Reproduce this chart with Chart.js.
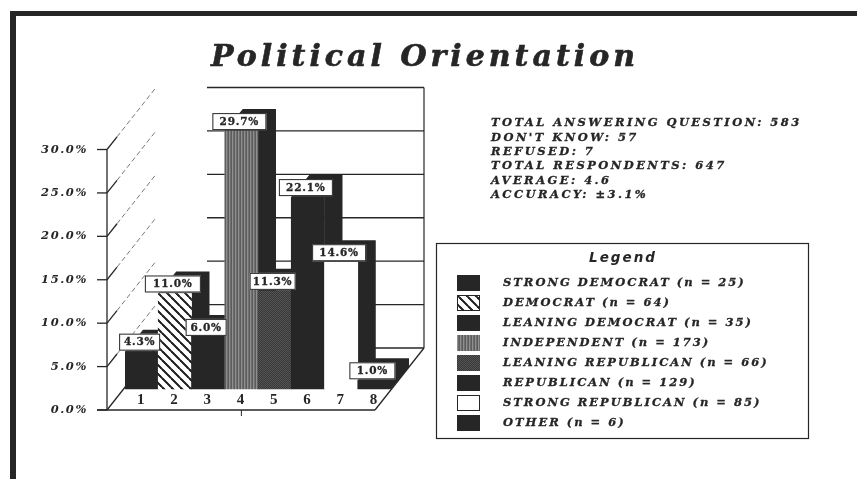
<!DOCTYPE html>
<html>
<head>
<meta charset="utf-8">
<style>html,body{margin:0;padding:0;background:#fff}canvas{display:block}</style>
<script src="https://cdn.jsdelivr.net/npm/chart.js@4"></script>
</head>
<body>
<canvas id="c" width="857" height="479"></canvas>
<script>
const titleText = 'Political Orientation';
const barLabels = ['1','2','3','4','5','6','7','8'];
const barValues = [4.3,11.0,6.0,29.7,11.3,22.1,14.6,1.0];
const tickValues = [0,5,10,15,20,25,30];
const statLines = ['TOTAL ANSWERING QUESTION: 583','DON\'T KNOW: 57','REFUSED: 7','TOTAL RESPONDENTS: 647','AVERAGE: 4.6','ACCURACY: \u00B13.1%'];
const legendTitle = 'Legend';
const legendNames = ['STRONG DEMOCRAT (n = 25)','DEMOCRAT (n = 64)','LEANING DEMOCRAT (n = 35)','INDEPENDENT (n = 173)','LEANING REPUBLICAN (n = 66)','REPUBLICAN (n = 129)','STRONG REPUBLICAN (n = 85)','OTHER (n = 6)'];
const INK = '#262626';

function tile(w,h,draw){const t=document.createElement('canvas');t.width=w;t.height=h;draw(t.getContext('2d'));return t.getContext('2d').createPattern(t,'repeat');}
const hatch = tile(9,9,g=>{g.fillStyle='#fff';g.fillRect(0,0,9,9);g.strokeStyle='#222';g.lineWidth=1.8;
  [[-9,-9,9,9],[0,0,9,9],[-9,0,9,18],[0,-9,18,9]].forEach(p=>{g.beginPath();g.moveTo(p[0],p[1]);g.lineTo(p[2],p[3]);g.stroke();});});
const stripes = tile(3,1,g=>{['#5c5c5c','#8f8f8f','#6e6e6e'].forEach((c,i)=>{g.fillStyle=c;g.fillRect(i,0,1,1);});});
const dots = tile(2,2,g=>{g.fillStyle='#383838';g.fillRect(0,0,2,2);g.fillStyle='#545454';g.fillRect(0,0,1,1);g.fillRect(1,1,1,1);});
const faceFills = [INK,hatch,INK,stripes,dots,INK,'#ffffff',INK];

function put(ctx,text,x,y,font,spacing,align,heavy){
  ctx.save();ctx.font=font;ctx.letterSpacing=spacing;ctx.textAlign=align||'left';ctx.textBaseline='middle';ctx.fillStyle=INK;ctx.fillText(text,x,y);
  if(heavy){ctx.strokeStyle=INK;ctx.lineWidth=heavy;ctx.strokeText(text,x,y);}
  ctx.restore();
}
function seg(ctx,x1,y1,x2,y2,w,c,dash){ctx.save();ctx.lineWidth=w;ctx.strokeStyle=c||INK;ctx.setLineDash(dash||[]);ctx.beginPath();ctx.moveTo(x1,y1);ctx.lineTo(x2,y2);ctx.stroke();ctx.restore();}

const WALL_DX=49, WALL_DY=-62, BAR_DX=18, BAR_DY=-22, AXIS_X=107;

const scene = {
  id:'scene',
  beforeDraw(chart){ chart.ctx.letterSpacing='1.6px';
    const c=chart.ctx; c.save();c.fillStyle='#fff';c.fillRect(0,0,857,479);
    c.fillStyle=INK;c.fillRect(10,11,847,5);c.fillRect(10,11,6,468);c.restore();
  },
  beforeDatasetsDraw(chart){
    const c=chart.ctx, ty=chart.scales.y2, xs=chart.scales.x;
    c.save(); c.letterSpacing='0px';
    const y0=ty.getPixelForValue(0), yT=ty.getPixelForValue(tickValues[tickValues.length-1]);
    const frontR=xs.getPixelForValue(7)+xs.width/16-16;
    const backR=frontR+WALL_DX;
    tickValues.forEach(v=>{
      const y=ty.getPixelForValue(v);
      seg(c,AXIS_X-10,y,AXIS_X,y,1.3);
      if(v>0){
        seg(c,AXIS_X,y,AXIS_X+10,y-12.6,1.3);
        seg(c,AXIS_X+10,y-12.6,AXIS_X+WALL_DX,y+WALL_DY,0.8,'#555',[5,3]);
        seg(c,207,y+WALL_DY,backR,y+WALL_DY,1.3);
      }
    });
    seg(c,AXIS_X,yT,AXIS_X,y0,1.3);
    seg(c,backR,yT+WALL_DY,backR,y0+WALL_DY,1.2);
    seg(c,AXIS_X-10,y0,frontR,y0,1.3);
    seg(c,AXIS_X,y0,AXIS_X+WALL_DX,y0+WALL_DY,1.3);
    seg(c,frontR,y0,backR,y0+WALL_DY,1.3);
    seg(c,AXIS_X+WALL_DX,y0+WALL_DY,backR,y0+WALL_DY,1.3);
    const mx=xs.getPixelForValue(3); seg(c,mx,y0,mx,y0+6,1);
    // 3D depth of every bar, taken from the library's bar elements
    chart.getDatasetMeta(0).data.forEach(b=>{
      const l=b.x-b.width/2,r=b.x+b.width/2;
      c.fillStyle=INK;
      c.beginPath();c.moveTo(l,b.y);c.lineTo(l+BAR_DX,b.y+BAR_DY);c.lineTo(r+BAR_DX,b.y+BAR_DY);c.lineTo(r+BAR_DX,b.base+BAR_DY);c.lineTo(r,b.base);c.lineTo(r,b.y);c.closePath();c.fill();
    });
    c.restore();
  },
  afterDatasetsDraw(chart){
    const c=chart.ctx;
    const meta=chart.getDatasetMeta(0).data;
    const boxW=[41,56,41,54,46,54,54,46];
    meta.forEach((b,i)=>{
      const w=boxW[i],h=17,x=b.x-w/2-2,y=b.y-h-1;
      c.save();c.fillStyle='#fff';c.strokeStyle=INK;c.lineWidth=1;c.fillRect(x,y,w,h);c.strokeRect(x+.5,y+.5,w-1,h-1);c.restore();
      put(c,barValues[i].toFixed(1)+'%',x+w/2,y+h/2+.5,'bold 10.5px "DejaVu Serif"','0.8px','center',0.3);
    });
    // title
    put(c,titleText,425,58,'italic bold 30px "DejaVu Serif"','4px','center',0.6);
    // stats block
    statLines.forEach((t,i)=>put(c,t,491,123.5+i*14.3,'italic bold 11.5px "DejaVu Serif"','2.45px','left',0.3));
    // legend
    c.save();c.strokeStyle=INK;c.lineWidth=1.2;c.strokeRect(436.5,243.5,372,195);c.restore();
    put(c,legendTitle,623,258,'italic bold 13.5px "DejaVu Sans"','2px','center');
    legendNames.forEach((t,i)=>{
      const cy=283+i*20;
      c.save();c.fillStyle=faceFills[i];c.fillRect(457,cy-8,23,16);
      if(i===1||i===6){c.strokeStyle=INK;c.lineWidth=1;c.strokeRect(457.5,cy-7.5,22,15);}
      c.restore();
      put(c,t,503,cy,'italic bold 11.5px "DejaVu Serif"','2px','left',0.3);
    });
  }
};

new Chart(document.getElementById('c'),{
  type:'bar',
  data:{labels:barLabels,datasets:[{data:barValues,backgroundColor:faceFills,borderWidth:0,barPercentage:1,categoryPercentage:1,yAxisID:'y'}]},
  options:{
    responsive:false,animation:false,
    layout:{padding:{top:87,right:466,left:0,bottom:0}},
    plugins:{legend:{display:false},title:{display:false},tooltip:{enabled:false}},
    scales:{
      x:{grid:{display:false,drawTicks:false},border:{display:false},
         ticks:{mirror:true,padding:1,maxRotation:0,autoSkip:false,color:INK,font:{family:'"Liberation Serif"',size:15,weight:'bold'}},
         afterFit(s){s.height=69;}},
      y:{display:false,min:-2.42,max:34.78},
      y2:{position:'left',min:0,max:37.2,grid:{display:false,drawTicks:false},border:{display:false},
         afterBuildTicks(s){s.ticks=tickValues.map(v=>({value:v}));},
         ticks:{padding:37,color:INK,font:{family:'"DejaVu Serif"',size:11.5,style:'italic',weight:'bold'},callback:v=>v.toFixed(1)+'%'},
         afterFit(s){s.width=125;}}
    }
  },
  plugins:[scene]
});
</script>
</body>
</html>
